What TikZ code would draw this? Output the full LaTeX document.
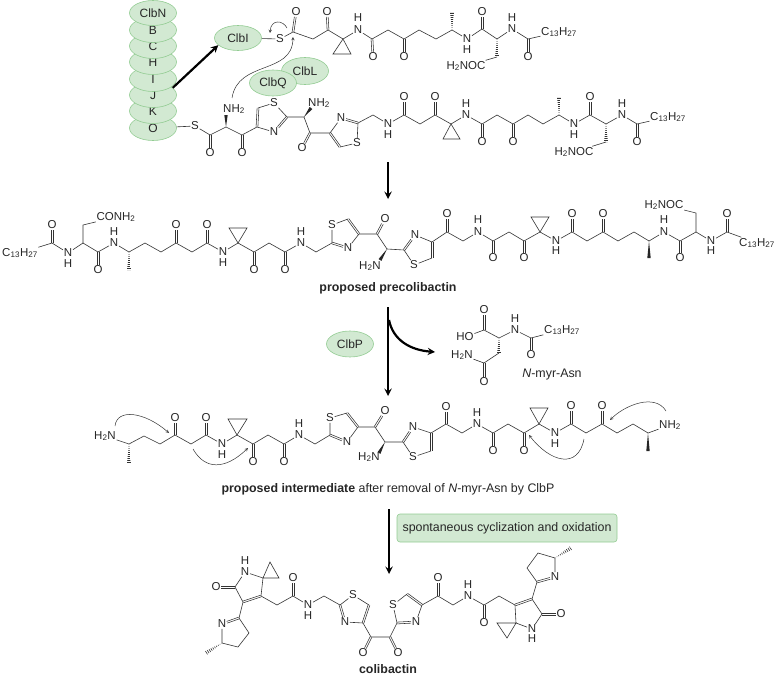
\documentclass[tikz,border=0pt]{standalone}
\usepackage{fontspec}
\setmainfont{Liberation Sans}
\usetikzlibrary{calc,shapes.geometric}
\definecolor{enzymefill}{HTML}{D2E9D2}
\definecolor{enzymeline}{HTML}{93CC93}
\tikzset{
  >=stealth,
  atom/.style={inner sep=0.6pt,font=\fontsize{11.5}{13}\selectfont,text=black!85},
  bond/.style={line width=.6pt,black!80},
  dbond/.style={line width=.55pt,black!80},
  bigarrow/.style={->,line width=2.2pt},
  curly/.style={->,line width=.5pt,black!80},
  enzyme/.style={ellipse,draw=enzymeline,fill=enzymefill,line width=.6pt,minimum width=47pt,minimum height=25pt,inner sep=0pt,font=\fontsize{12}{14}\selectfont,text=black!85},
  caption/.style={inner sep=0pt,font=\fontsize{12.4}{14}\selectfont,text=black!85}
}
\NewDocumentCommand\carbons{m}{\foreach \nm/\x/\y in {#1} \coordinate (\nm) at (\x,\y);}
\NewDocumentCommand\atoms{m}{\foreach \nm/\x/\y/\txt in {#1} \node[atom] (\nm) at (\x,\y) {\txt};}
\NewDocumentCommand\doubles{m}{\foreach \a/\b in {#1} {
    \path (\a) -- (\b) coordinate[pos=0] (dU) coordinate[pos=1] (dV);
    \draw[dbond] ($(dU)!.9pt!90:(dV)$) -- ($(dV)!.9pt!-90:(dU)$);
    \draw[dbond] ($(dU)!.9pt!-90:(dV)$) -- ($(dV)!.9pt!90:(dU)$);
  }}
\NewDocumentCommand\wedgebond{mm}{\fill[black!85] (#1) -- ($(#2)!1.7pt!90:(#1)$) -- ($(#2)!1.7pt!-90:(#1)$) -- cycle;}
\NewDocumentCommand\hashbond{mm}{\begin{scope}
    \clip (#1) -- ($(#2)!2pt!90:(#1)$) -- ($(#2)!2pt!-90:(#1)$) -- cycle;
    \draw[line width=4pt,black!80,dash pattern=on .6pt off 1.4pt] (#1) -- (#2);
  \end{scope}}
\NewDocumentCommand\myr{}{C\textsubscript{13}H\textsubscript{27}}
\NewDocumentCommand\nhh{}{NH\textsubscript{2}}
\NewDocumentCommand\hhn{}{H\textsubscript{2}N}
\NewDocumentCommand\hhnoc{}{H\textsubscript{2}NOC}

\begin{document}
\begin{tikzpicture}[x=1pt,y=-1pt]
    \useasboundingbox (0,0) rectangle (777,677);

    % enzymes
    \foreach \nm/\y/\txt in {O/128/O,K/111/K,J/95/J,I/79/I,H/62/H,C/46/C,B/30/B}
      \node[enzyme] (clb\nm) at (153,\y) {\raisebox{-3pt}{\txt}};
    \node[enzyme] (clbN) at (153,13) {ClbN};
    \node[enzyme] (clbI2) at (238,38) {ClbI};
    \node[enzyme,minimum height=27pt] (clbL) at (305,71) {ClbL};
    \node[enzyme,minimum height=26pt] (clbQ) at (273,83) {ClbQ};
    \node[enzyme,minimum height=26pt] (clbP) at (350,344) {ClbP};
    \node[enzyme,rectangle,rounded corners=3pt,minimum width=220pt,minimum height=28pt,font=\fontsize{12.4}{14}\selectfont] (cyclize) at (507,528)
      {spontaneous cyclization and oxidation};

    % top thioester
    \carbons{tC1/293/32,tC2/313/39,tC3/328/30,tC4/343/39,tP1/333/54,tP2/351/54,tC5/372/39,tC6/388/30,tC7/404/39,
      tC8/419/30,tC9/436/39,tC10/452/30,tMe/452/12,tC11/482/29,tC12/497/39,tC14/528/39,tC15/497/57}
    \atoms{tS/280/39/S,tO1/296/12/O,tO2/327/12/O,tN1/358/30/N,tH1/358/18/H,tO3/373/57/O,tO4/404/57/O,tN2/467/39/N,
      tH2/467/50/H,tO5/482/12/O,tN3/512/29/N,tH3/512/18/H,tMyr/559/32/\myr,tO6/528/57/O,tCO/466/66/\hhnoc}
    \draw[bond] (clbI2) -- (tS) -- (tC1) -- (tC2) -- (tC3) -- (tC4) -- (tN1) -- (tC5) -- (tC6) -- (tC7) -- (tC8) -- (tC9)
      -- (tC10) -- (tN2) -- (tC11) -- (tC12) -- (tN3) -- (tC14) -- (tMyr);
    \draw[bond] (tC4) -- (tP1) -- (tP2) -- cycle;
    \draw[bond] (tC15) -- (tCO);
    \doubles{tC1/tO1,tC3/tO2,tC5/tO3,tC7/tO4,tC11/tO5,tC14/tO6}
    \hashbond{tC10}{tMe}
    \hashbond{tC12}{tC15}

    % second thioester
    \carbons{sC1/210/135,sC2/226/127,sW1/226/115,sC3/242/135,sC4/257/127,sC5/258/108,sC6/287/117,sC7/304/117,sW2/311/108,
      sC8/310/133,sC9/330/133,sC10/340/147,sC11/358/123,sC12/373/115,sC13/404/115,sC14/420/124,sC15/435/115,sC16/451/124,
      sP1/443/139,sP2/460/139,sC17/482/124,sC18/497/115,sC19/513/124,sC20/528/115,sC21/543/124,sC22/559/115,sMe/559/97,
      sC23/590/115,sC24/606/124,sC25/637/124,sC26/606/142}
    \atoms{sS1/195/126/S,sO1/210/153/O,sN1/234/109/\nhh,sO2/242/153/O,sS2/274/103/S,sN2/274/132/N,sNb/319/103/\nhh,
      sO3/302/148/O,sN3/341/118/N,sS3/357/143/S,sN4/388/124/N,sH4/388/135/H,sO4/404/97/O,sO5/435/97/O,sN5/466/115/N,
      sH5/466/104/H,sO6/482/142/O,sO7/513/142/O,sN6/574/124/N,sH6/574/135/H,sO8/590/97/O,sN7/622/115/N,sH7/622/104/H,
      sO9/637/142/O,sMyr/668/117/\myr,sCO/574/152/\hhnoc}
    \draw[bond] (clbO) -- (sS1) -- (sC1) -- (sC2) -- (sC3) -- (sC4);
    \draw[bond] (sC5) -- (sS2) -- (sC6) -- (sC7) -- (sC8) -- (sC9);
    \draw[bond] (sN2) -- (sC4);
    \draw[bond] (sC10) -- (sS3) -- (sC11) -- (sC12) -- (sN4) -- (sC13) -- (sC14) -- (sC15) -- (sC16) -- (sN5) -- (sC17)
      -- (sC18) -- (sC19) -- (sC20) -- (sC21) -- (sC22) -- (sN6) -- (sC23) -- (sC24) -- (sN7) -- (sC25) -- (sMyr);
    \draw[bond] (sN3) -- (sC9);
    \draw[bond] (sC16) -- (sP1) -- (sP2) -- cycle;
    \draw[bond] (sC26) -- (sCO);
    \doubles{sC1/sO1,sC3/sO2,sC4/sC5,sC6/sN2,sC8/sO3,sC9/sC10,sC11/sN3,sC13/sO4,sC15/sO5,sC17/sO6,sC19/sO7,sC23/sO8,sC25/sO9}
    \wedgebond{sC2}{sW1}
    \wedgebond{sC7}{sW2}
    \hashbond{sC22}{sMe}
    \hashbond{sC24}{sC26}

    % precolibactin
    \carbons{pC1/52/243,pC2/83/243,pC3/83/225,pC4/98/252,pC5/129/252,pMe/129/270,pC6/145/243,pC7/161/252,pC8/176/243,
      pC9/192/252,pC10/207/243,pC11/238/243,pP1/229/228,pP2/247/228,pC12/254/252,pC13/269/243,pC14/285/252,pC15/316/252,
      pC16/332/243,pC17/348/219,pC18/359/234,pC19/377/234,pC20/387/249,pW1/380/260,pC21/404/250,pC22/432/242,pC23/432/258,
      pC24/447/232,pC25/463/241,pC26/493/241,pC27/509/232,pC28/524/241,pC29/540/232,pP3/531/217,pP4/549/217,pC30/572/232,
      pC31/587/241,pC32/603/232,pC33/618/241,pC34/634/232,pC35/649/241,pMe2/649/258,pC36/680/241,pC37/696/232,pC38/696/213,
      pC39/727/232}
    \atoms{pMyr/20/253/\myr,pO1/52/225/O,pN1/68/253/N,pH1/68/264/H,pCO/116/217/CO\nhh,pO2/98/270/O,pN2/114/243/N,pH2/114/232/H,
      pO3/176/225/O,pO4/207/225/O,pN3/223/252/N,pH3/223/263/H,pO5/254/270/O,pO6/285/270/O,pN4/301/243/N,pH4/301/232/H,
      pS1/332/225/S,pN5/348/248/N,pO7/385/219/O,pNb/370/266/\hhn,pN6/415/235/N,pS2/414/265/S,pO8/447/214/O,pN7/478/232/N,
      pH7/478/220/H,pO9/493/258/O,pO10/524/258/O,pN8/556/241/N,pH8/556/251/H,pO11/572/214/O,pO12/603/214/O,pN9/664/232/N,
      pH9/664/220/H,pO13/680/258/O,pCOb/664/205/\hhnoc,pN10/711/241/N,pH10/711/251/H,pO14/727/214/O,pMyrb/757/243/\myr}
    \draw[bond] (pMyr) -- (pC1) -- (pN1) -- (pC2) -- (pC4) -- (pN2) -- (pC5) -- (pC6) -- (pC7) -- (pC8) -- (pC9) -- (pC10)
      -- (pN3) -- (pC11) -- (pC12) -- (pC13) -- (pC14) -- (pN4) -- (pC15) -- (pC16) -- (pS1) -- (pC17);
    \draw[bond] (pC18) -- (pN5);
    \draw[bond] (pC18) -- (pC19) -- (pC20) -- (pC21);
    \draw[bond] (pN6) -- (pC22);
    \draw[bond] (pC23) -- (pS2) -- (pC21);
    \draw[bond] (pC22) -- (pC24) -- (pC25) -- (pN7) -- (pC26) -- (pC27) -- (pC28) -- (pC29) -- (pN8) -- (pC30) -- (pC31)
      -- (pC32) -- (pC33) -- (pC34) -- (pC35) -- (pN9) -- (pC36) -- (pC37) -- (pN10) -- (pC39) -- (pMyrb);
    \draw[bond] (pC2) -- (pC3) -- (pCO);
    \draw[bond] (pC37) -- (pC38) -- (pCOb);
    \draw[bond] (pC11) -- (pP1) -- (pP2) -- cycle;
    \draw[bond] (pC29) -- (pP3) -- (pP4) -- cycle;
    \doubles{pC1/pO1,pC4/pO2,pC8/pO3,pC10/pO4,pC12/pO5,pC14/pO6,pC17/pC18,pN5/pC16,pC19/pO7,pC21/pN6,pC22/pC23,pC24/pO8,
      pC26/pO9,pC28/pO10,pC30/pO11,pC32/pO12,pC36/pO13,pC39/pO14}
    \hashbond{pC5}{pMe}
    \wedgebond{pC35}{pMe2}
    \wedgebond{pC20}{pW1}

    % N-myr-Asn
    \carbons{mC1/484/330,mC2/499/338,mC3/531/338,mC4/499/353,mC5/484/363}
    \atoms{mO1/484/310/O,mOH/465/337/HO,mN1/515/330/N,mH1/515/319/H,mO2/531/355/O,mMyr/562/330/\myr,mNb/462/355/\hhn,mO3/484/382/O}
    \draw[bond] (mOH) -- (mC1) -- (mC2) -- (mN1) -- (mC3) -- (mMyr);
    \draw[bond] (mC4) -- (mC5) -- (mNb);
    \doubles{mC1/mO1,mC3/mO2,mC5/mO3}
    \hashbond{mC2}{mC4}

    % intermediate
    \carbons{iC1/129/444,iMe/129/463,iC2/144/436,iC3/160/444,iC4/175/435,iC5/191/444,iC6/206/435,iC7/237/435,iP1/228/419,
      iP2/247/419,iC8/253/444,iC9/268/435,iC10/284/444,iC11/315/444,iC12/330/435,iC13/347/413,iC14/358/427,iC15/375/427,
      iC16/385/442,iW1/379/453,iC17/403/442,iC18/431/433,iC19/431/451,iC20/446/424,iC21/462/433,iC22/493/433,iC23/508/424,
      iC24/524/433,iC25/539/424,iP3/530/408,iP4/548/408,iC26/571/424,iC27/586/433,iC28/602/424,iC29/617/433,iC30/633/424,
      iC31/648/433,iMe2/648/451}
    \atoms{iNa/105/436/\hhn,iO1/175/418/O,iO2/206/418/O,iN1/222/444/N,iH1/222/455/H,iO3/253/462/O,iO4/284/462/O,iN2/299/435/N,
      iH2/299/424/H,iS1/330/418/S,iN3/347/442/N,iO5/385/411/O,iNb/369/457/\hhn,iN4/413/427/N,iS2/413/457/S,iO6/446/407/O,
      iN5/477/424/N,iH5/477/413/H,iO7/493/451/O,iO8/524/451/O,iN6/555/433/N,iH6/555/444/H,iO9/571/406/O,iO10/602/406/O,iNc/670/425/\nhh}
    \draw[bond] (iNa) -- (iC1) -- (iC2) -- (iC3) -- (iC4) -- (iC5) -- (iC6) -- (iN1) -- (iC7) -- (iC8) -- (iC9) -- (iC10)
      -- (iN2) -- (iC11) -- (iC12) -- (iS1) -- (iC13);
    \draw[bond] (iC14) -- (iN3);
    \draw[bond] (iC14) -- (iC15) -- (iC16) -- (iC17);
    \draw[bond] (iN4) -- (iC18);
    \draw[bond] (iC19) -- (iS2) -- (iC17);
    \draw[bond] (iC18) -- (iC20) -- (iC21) -- (iN5) -- (iC22) -- (iC23) -- (iC24) -- (iC25) -- (iN6) -- (iC26) -- (iC27)
      -- (iC28) -- (iC29) -- (iC30) -- (iC31) -- (iNc);
    \draw[bond] (iC7) -- (iP1) -- (iP2) -- cycle;
    \draw[bond] (iC25) -- (iP3) -- (iP4) -- cycle;
    \doubles{iC4/iO1,iC6/iO2,iC8/iO3,iC10/iO4,iC13/iC14,iN3/iC12,iC15/iO5,iC17/iN4,iC18/iC19,iC20/iO6,iC22/iO7,iC24/iO8,iC26/iO9,iC28/iO10}
    \hashbond{iC1}{iMe}
    \wedgebond{iC31}{iMe2}
    \wedgebond{iC16}{iW1}

    % colibactin
    \carbons{cC1/235/587,cC2/263/578,cP1/270/562,cP2/279/578,cC3/261/596,cC4/243/602,cC5/239/618,cC6/222/643,cMe/206/653,
      cC7/238/647,cC8/249/633,cC9/277/605,cC10/293/596,cC11/324/596,cC12/340/605,cC13/369/605,cC14/363/623,cC15/371/637,
      cC16/390/637,cC17/397/623,cC18/422/605,cC19/407/594,cC20/438/596,cC21/453/605,cC22/484/605,cC23/499/596,cC24/515/605,
      cC25/532/599,cC26/542/614,cC27/516/623,cP3/497/623,cP4/507/638,cC28/537/582,cC29/555/558,cMe2/571/548,cC30/538/553,cC31/527/568}
    \atoms{cO1/216/587/O,cN1/245/572/N,cH1/245/561/H,cN2/222/624/N,cO2/293/578/O,cN3/308/605/N,cH3/308/616/H,cS1/353/595/S,
      cN4/345/622/N,cO3/363/653/O,cO4/398/653/O,cN5/416/622/N,cS2/393/605/S,cO5/438/578/O,cN6/468/596/N,cH6/468/585/H,
      cO6/484/623/O,cO7/561/614/O,cN7/532/629/N,cH7/532/639/H,cN8/555/577/N}
    \draw[bond] (cC4) -- (cC1) -- (cN1) -- (cC2) -- (cC3);
    \draw[bond] (cC2) -- (cP1) -- (cP2) -- cycle;
    \draw[bond] (cC4) -- (cC5);
    \draw[bond] (cN2) -- (cC6) -- (cC7) -- (cC8) -- (cC5);
    \draw[bond] (cC3) -- (cC9) -- (cC10) -- (cN3) -- (cC11) -- (cC12) -- (cS1) -- (cC13);
    \draw[bond] (cC14) -- (cN4);
    \draw[bond] (cC14) -- (cC15) -- (cC16) -- (cC17);
    \draw[bond] (cN5) -- (cC18);
    \draw[bond] (cC19) -- (cS2) -- (cC17);
    \draw[bond] (cC18) -- (cC20) -- (cC21) -- (cN6) -- (cC22) -- (cC23) -- (cC24);
    \draw[bond] (cC25) -- (cC26) -- (cN7) -- (cC27) -- (cC24);
    \draw[bond] (cC27) -- (cP3) -- (cP4) -- cycle;
    \draw[bond] (cC25) -- (cC28);
    \draw[bond] (cN8) -- (cC29) -- (cC30) -- (cC31) -- (cC28);
    \doubles{cC1/cO1,cC3/cC4,cC5/cN2,cC10/cO2,cC13/cC14,cN4/cC12,cC15/cO3,cC16/cO4,cC17/cN5,cC18/cC19,cC20/cO5,cC22/cO6,cC24/cC25,cC26/cO7,cC28/cN8}
    \hashbond{cC6}{cMe}
    \hashbond{cC29}{cMe2}

    % captions
    \node[caption] (capP) at (388,288) {\textbf{proposed precolibactin}};
    \node[caption] (capM) at (552,375) {\textit{N}-myr-Asn};
    \node[caption] (capI) at (388,489) {\textbf{proposed intermediate} after removal of \textit{N}-myr-Asn by ClbP};
    \node[caption] (capC) at (388,669) {\textbf{colibactin}};

    % big arrows
    \coordinate (a1s) at (388,162);
    \coordinate (a1e) at (388,199);
    \coordinate (a2s) at (388,307);
    \coordinate (a2e) at (388,396);
    \coordinate (a3s) at (389,509);
    \coordinate (a3e) at (389,574);
    \coordinate (a4s) at (389,320);
    \coordinate (a4e) at (435,352);
    \draw[bigarrow] (clbJ.20) -- (clbI2.200);
    \draw[bigarrow] (a1s) -- (a1e);
    \draw[bigarrow] (a2s) -- (a2e);
    \draw[bigarrow] (a3s) -- (a3e);
    \draw[bigarrow] (a4s) .. controls (393,340) and (410,350) .. (a4e);

    % electron pushing
    \coordinate (e1s) at (287,28);
    \coordinate (e1e) at (270,33);
    \coordinate (e2s) at (232,98);
    \coordinate (e2e) at (293,37);
    \coordinate (e3s) at (115,426);
    \coordinate (e3e) at (169,433);
    \coordinate (e4s) at (193,449);
    \coordinate (e4e) at (248,448);
    \coordinate (e5s) at (666,411);
    \coordinate (e5e) at (610,420);
    \coordinate (e6s) at (584,439);
    \coordinate (e6e) at (529,435);
    \draw[curly] (e1s) .. controls (283,20) and (271,19) .. (e1e);
    \draw[curly] (e2s) .. controls (238,60) and (292,75) .. (e2e);
    \draw[curly] (e3s) .. controls (117,408) and (145,412) .. (e3e);
    \draw[curly] (e4s) .. controls (205,470) and (225,470) .. (e4e);
    \draw[curly] (e5s) .. controls (655,393) and (625,405) .. (e5e);
    \draw[curly] (e6s) .. controls (578,470) and (550,462) .. (e6e);
  \end{tikzpicture}
\end{document}
